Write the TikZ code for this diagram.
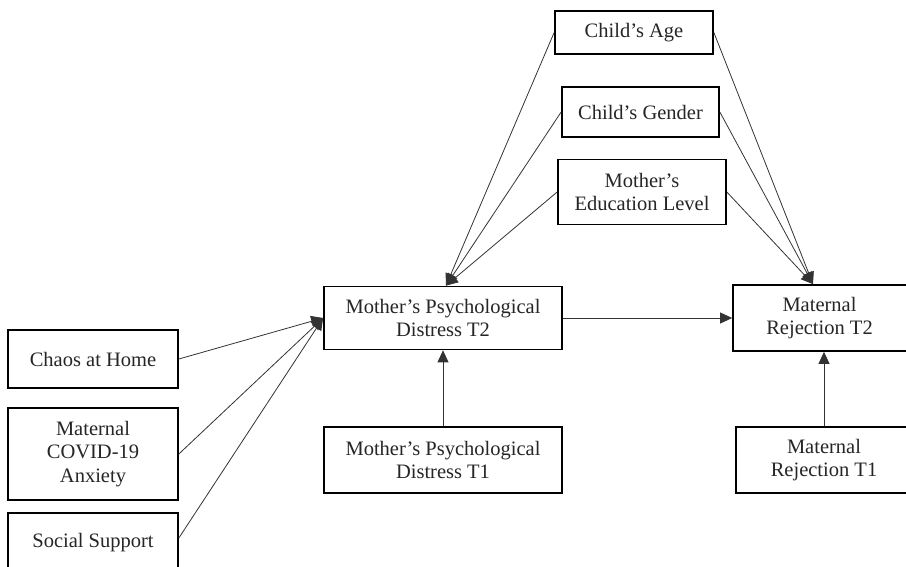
\documentclass[tikz,border=0pt]{standalone}
\usepackage{fontspec}
\setmainfont{Liberation Serif}
\usetikzlibrary{arrows.meta}
\begin{document}
\begin{tikzpicture}[x=1pt,y=-1pt,
  box/.style={draw=black,line width=1.7pt,fill=white,align=center,inner sep=0pt,
    font=\fontsize{20.5}{23.5}\selectfont,text=black!85},
  conn/.style={draw=black!80,line width=0.8pt,-{Triangle[length=12pt,width=11pt]}}]
\useasboundingbox (0,0) rectangle (906,567);
\node[box,minimum width=158pt,minimum height=43pt] (age) at (634,32.5) {Child’s Age};
\node[box,minimum width=157pt,minimum height=50pt] (gender) at (640.5,112) {Child’s Gender};
\node[box,minimum width=168pt,minimum height=65pt] (edu) at (642,192) {Mother’s\\Education Level};
\node[box,minimum width=238pt,minimum height=63pt] (mpd2) at (443,318) {Mother’s Psychological\\Distress T2};
\node[box,minimum width=180pt,minimum height=66pt] (mr2) at (823,318) {\hspace*{-7pt}Maternal\\\hspace*{-7pt}Rejection T2};
\node[box,minimum width=238pt,minimum height=66pt] (mpd1) at (443,460) {Mother’s Psychological\\Distress T1};
\node[box,minimum width=176pt,minimum height=66pt] (mr1) at (824,460) {Maternal\\Rejection T1};
\node[box,minimum width=170pt,minimum height=58pt] (chaos) at (93,359) {Chaos at Home};
\node[box,minimum width=170pt,minimum height=92pt] (covid) at (93,454) {Maternal\\COVID-19\\Anxiety};
\node[box,minimum width=170pt,minimum height=60pt] (social) at (93,543) {Social Support};
\coordinate (mrtop) at ([xshift=-10pt]mr2.north);
\coordinate (mpdtop) at ([xshift=3pt]mpd2.north);
\draw[conn] (age.west) -- (mpdtop);
\draw[conn] (gender.west) -- (mpdtop);
\draw[conn] (edu.west) -- (mpdtop);
\draw[conn] (age.east) -- (mrtop);
\draw[conn] (gender.east) -- (mrtop);
\draw[conn] (edu.east) -- (mrtop);
\draw[conn] (chaos.east) -- (mpd2.west);
\draw[conn] (covid.east) -- (mpd2.west);
\draw[conn] ([yshift=5pt]social.east) -- (mpd2.west);
\draw[conn] (mpd2.east) -- (mr2.west);
\draw[conn] (mpd1.north) -- (mpd2.south);
\draw[conn] (mr1.north) -- (mr1.north |- mr2.south);
\end{tikzpicture}
\end{document}
